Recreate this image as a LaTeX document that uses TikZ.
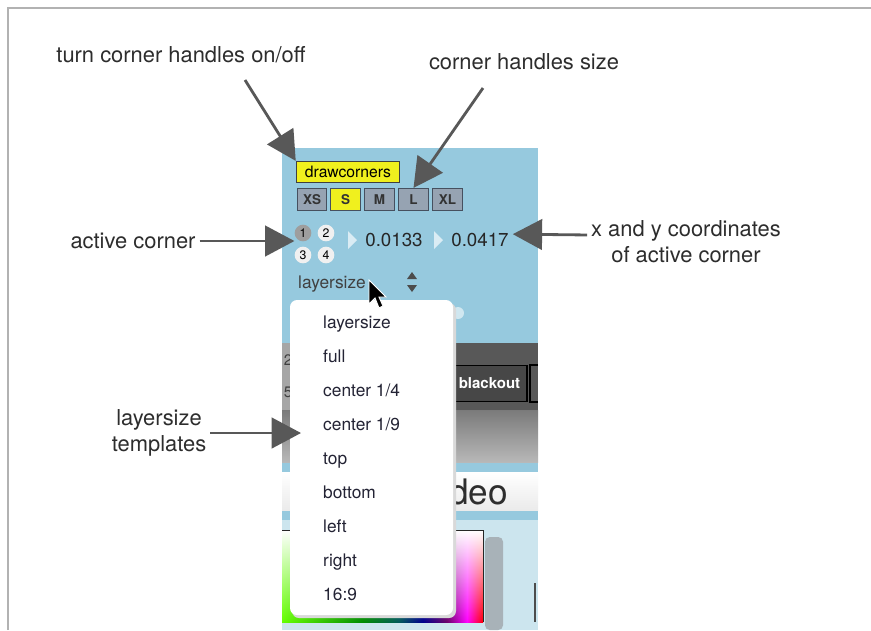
\documentclass[tikz,border=0pt]{standalone}
\usepackage{fontspec}
\setmainfont{TeX Gyre Heros}
\usetikzlibrary{arrows.meta, positioning, fadings}
\definecolor{panelblue}{RGB}{150,201,222}
\definecolor{paleblue}{RGB}{204,229,238}
\definecolor{btngray}{RGB}{150,163,178}
\definecolor{btnedge}{RGB}{70,80,95}
\definecolor{drawyellow}{RGB}{240,240,30}
\definecolor{calloutgray}{RGB}{88,88,88}
\definecolor{labelgray}{RGB}{45,45,45}
\definecolor{framegray}{RGB}{178,178,178}
\definecolor{bandgray}{RGB}{88,88,88}
\definecolor{menutext}{RGB}{35,35,52}
\definecolor{slidergray}{RGB}{168,178,184}
\tikzfading[name=whitetop, top color=transparent!0, middle color=transparent!75, bottom color=transparent!100]
% stops between 25bp and 75bp cover the filled path
\pgfdeclarehorizontalshading{huefield}{100bp}{color(0bp)=(green!60!yellow); color(25bp)=(green!60!yellow);
  color(45bp)=(green!55!black); color(54bp)=(teal!70!black); color(60bp)=(blue!55!black);
  color(66bp)=(violet!85!black); color(71bp)=(magenta); color(75bp)=(red); color(100bp)=(red)}
\tikzset{
  callout/.style={draw=calloutgray, line width=2.4pt, -{Triangle[length=25pt, width=26pt]}},
  note/.style={text=labelgray, font=\fontsize{18.7}{22}\selectfont, align=center},
  sizebtn/.style={draw=btnedge, line width=1pt, minimum width=0.88cm, minimum height=0.66cm,
    inner sep=0pt, font=\bfseries\fontsize{11.5}{12}\selectfont, text=black!80},
  corner/.style={circle, minimum size=0.5cm, inner sep=0pt, font=\fontsize{10.5}{11}\selectfont},
  value/.style={font=\fontsize{16}{17}\selectfont, text=black!85},
  menuitem/.style={anchor=base west, inner sep=0pt, font=\fontsize{14.8}{16}\selectfont, text=menutext},
}
\begin{document}
\begin{tikzpicture}[x=0.03cm, y=-0.03cm]
  \useasboundingbox (0,0) rectangle (871,630);
  \fill [white] (0,0) rectangle (871,630);

  % page frame
  \draw [framegray, line width=1.6pt] (8,630) -- (8,8) -- (871,8);

  % panel background
  \fill [panelblue] (282,148) rectangle (538,630);
  \fill [bandgray] (282,343) rectangle (538,410);
  \fill [black!35] (282,343) rectangle (290,410);
  \shade [top color=black!52, bottom color=black!28] (282,410) rectangle (538,462);
  \shade [top color=white, bottom color=black!8] (282,472) rectangle (538,510);
  \fill [paleblue] (282,520) rectangle (538,630);

  % colour field and slider
  \shade [shading=huefield] (282,530) rectangle (483,622);
  \fill [white, path fading=whitetop] (282,530) rectangle (483,622);
  \draw [black!85, line width=0.8pt] (282,530) -- (483,530) -- (483,622);
  \fill [slidergray, rounded corners=4pt] (485,537) rectangle (503,630);
  \draw [black!70, line width=1pt] (535,583) -- (535,622);

  % buttons behind the menu
  \node [draw=black, line width=1pt, fill=black!72, minimum width=2.25cm, minimum height=1.1cm,
    inner sep=0pt, text=white, font=\bfseries\fontsize{12.8}{13}\selectfont] (btn-blackout) at (489.5,383.5) {blackout};
  \draw [black, line width=1pt] (538,365) -- (530,365) -- (530,402) -- (538,402);
  \node [font=\fontsize{13}{14}\selectfont, text=black!75, inner sep=0pt] (edge-2) at (288,360) {2};
  \node [font=\fontsize{13}{14}\selectfont, text=black!75, inner sep=0pt] (edge-5) at (288,392) {5};
  \node [anchor=west, inner sep=0pt, font=\fontsize{30}{32}\selectfont, text=black!82] (tab-video) at (449,492) {deo};

  % corner handle controls
  \node [draw=black!75, line width=1pt, fill=drawyellow, minimum width=3.1cm, minimum height=0.63cm,
    inner sep=0pt, font=\fontsize{13.4}{14}\selectfont] (btn-draw) at (348,172) {drawcorners};
  \foreach \lbl/\x/\col in {XS/312/btngray, S/345.5/drawyellow, M/379.5/btngray, L/413.5/btngray, XL/447.5/btngray}
    \node [sizebtn, fill=\col] (btn-\lbl) at (\x,199.5) {\lbl};

  \foreach \n/\x/\y/\col in {1/303/233/black!38, 2/326/233/white!88!gray, 3/303/255/white!88!gray, 4/326/255/white!88!gray}
    \node [corner, fill=\col] (corner-\n) at (\x,\y) {\n};

  \fill [white!65!panelblue] (348,231) -- (357,240) -- (348,249) -- cycle;
  \fill [white!65!panelblue] (434,231) -- (443,240) -- (434,249) -- cycle;
  \node [value] (val-x) at (394,240) {0.0133};
  \node [value] (val-y) at (480,240) {0.0417};

  % layersize popup
  \node [menuitem, text=black!75] (sel-layersize) at (298,288) {layersize};
  \fill [black!70] (407,279) -- (417,279) -- (412,272) -- cycle;
  \fill [black!70] (407,285) -- (417,285) -- (412,292) -- cycle;
  \fill [white!55!panelblue] (458,313) circle (6);

  \fill [black!15, rounded corners=6pt] (292,303) rectangle (456,618);
  \node [fill=white, rounded corners=6pt, minimum width=4.89cm, minimum height=9.45cm, inner sep=0pt] (menu) at (371.5,457.5) {};
  \foreach \item [count=\i] in {layersize, full, center 1/4, center 1/9, top, bottom, left, right, 16:9}
    \node [menuitem] (item-\i) at (323,294+34*\i) {\item};

  % mouse pointer
  \filldraw [fill=black, draw=white, line width=0.8pt, shift={(369,280)}]
    (0,0) -- (0,24) -- (6,18) -- (10,28) -- (14,26) -- (10,17) -- (17,17) -- cycle;

  % annotations
  \node [note] (lbl-onoff) at (181,55) {turn corner handles on/off};
  \node [note] (lbl-size) at (524,62) {corner handles size};
  \node [note] (lbl-active) at (133,241) {active corner};
  \node [note] (lbl-xy) at (686,242) {x and y coordinates\\of active corner};
  \node [note] (lbl-templates) at (159,433) {layersize\\templates};

  \coordinate (onoff-tail) at (245,80);
  \coordinate (size-tail) at (483,88);
  \coordinate (templ-tip) at (301,433);
  \draw [callout] (onoff-tail) -- (btn-draw.north west);
  \draw [callout] (size-tail) -- (btn-L.north);
  \draw [callout] (lbl-active.east) -- (corner-1.west |- lbl-active.east);
  \draw [callout] ([yshift=6pt]lbl-xy.west) -- ([yshift=5pt]val-y.east);
  \draw [callout] (lbl-templates.east) -- (templ-tip);
\end{tikzpicture}
\end{document}
